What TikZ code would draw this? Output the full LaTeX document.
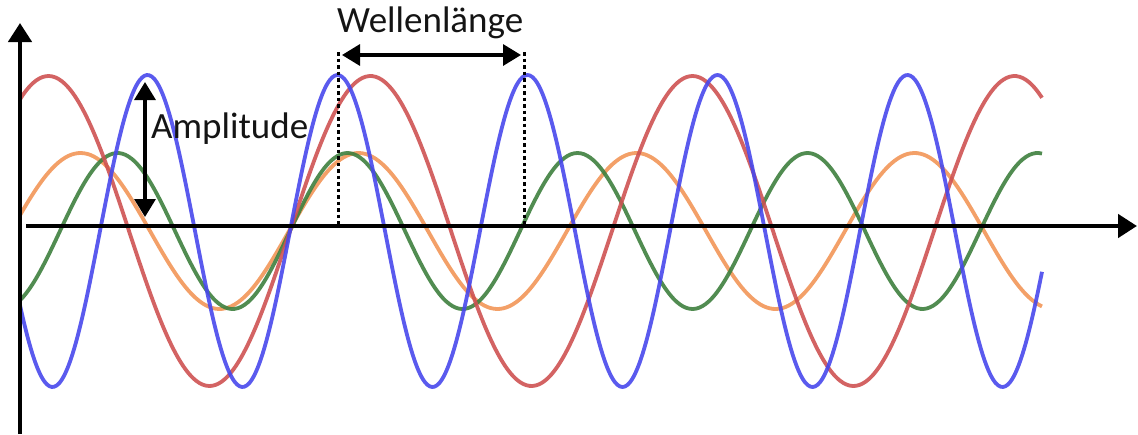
\documentclass[tikz,border=0pt]{standalone}
\usepackage{fontspec}
\setmainfont{Carlito}
\usetikzlibrary{arrows.meta}
\definecolor{wblue}{RGB}{72,72,236}
\definecolor{wred}{RGB}{206,82,82}
\definecolor{worange}{RGB}{242,150,88}
\definecolor{wgreen}{RGB}{62,128,62}
\definecolor{txt}{RGB}{20,20,20}
\begin{document}
\begin{tikzpicture}[x=1pt,y=-1pt,
  axis/.style={line width=4.5pt, -{Triangle[length=19pt,width=23pt]}},
  wave/.style={line width=3.8pt, opacity=0.9, line join=round},
  dim/.style={line width=3.3pt, {Triangle[length=18pt,width=21pt]}-{Triangle[length=18pt,width=21pt]}},
  guide/.style={line width=3pt, dash pattern=on 3.5pt off 3pt},
  lbl/.style={inner sep=0pt, text=txt, font=\fontsize{37}{42}\selectfont}]
\useasboundingbox (0,0) rectangle (1138,434);
% waves
\draw[wave, worange] plot[domain=20:1042, samples=320, smooth] (\x, {231-78*sin(1.294964*(\x-289))});
\draw[wave, wgreen] plot[domain=20:1042, samples=320, smooth] (\x, {231-78*sin(1.565217*(\x-290))});
\draw[wave, wred] plot[domain=20:1042, samples=320, smooth] (\x, {231-155*sin(1.118012*(\x-290))});
\draw[wave, wblue] plot[domain=20:1042, samples=420, smooth] (\x, {231-156*sin(1.894737*(\x-290))});
% axes
\coordinate (yb) at (20,434);
\coordinate (yt) at (20,23);
\coordinate (xl) at (26,226);
\coordinate (xr) at (1137,226);
\draw[axis] (yb) -- (yt);
\draw[axis] (xl) -- (xr);
% wavelength guides
\coordinate (d1t) at (338,52);
\coordinate (d1b) at (338,226);
\coordinate (d2t) at (524,52);
\coordinate (d2b) at (524,226);
\draw[guide] (d1t) -- (d1b);
\draw[guide] (d2t) -- (d2b);
\coordinate (w1) at (342,55);
\coordinate (w2) at (521,55);
\draw[dim] (w1) -- (w2);
% amplitude
\coordinate (a1) at (145,82);
\coordinate (a2) at (145,217);
\draw[dim] (a1) -- (a2);
% labels
\node[lbl, anchor=base west] (amp) at (151,138) {Amplitude};
\node[lbl, anchor=base west] (wl) at (337,32) {Wellenlänge};
\end{tikzpicture}
\end{document}
